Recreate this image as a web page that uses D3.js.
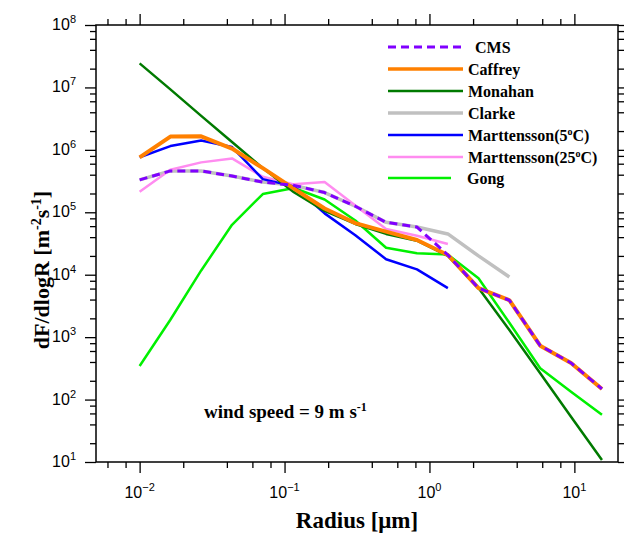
<!DOCTYPE html>
<html>
<head>
<meta charset="utf-8">
<script src="https://cdn.jsdelivr.net/npm/d3@7"></script>
<style>
  body { margin: 0; background: #fff; }
  svg { display: block; }
</style>
</head>
<body>
<svg id="chart" width="624" height="533"></svg>
<script>
// Particle radius bins (µm)
const radius = [0.01, 0.0163, 0.0266, 0.0434, 0.0708, 0.116, 0.189, 0.308,
                0.502, 0.82, 1.34, 2.18, 3.56, 5.81, 9.48, 15.5];

// Sea-salt source functions, dF/dlogR [m^-2 s^-1]
const cms      = [3.3e5, 4.6e5, 4.6e5, 3.8e5, 3.05e5, 2.7e5, 2.07e5, 1.25e5,
                  6.9e4, 5.8e4, 2.07e4, 6.1e3, 3.9e3, 7.3e2, 3.86e2, 1.48e2];
const caffrey  = [7.6e5, 1.63e6, 1.65e6, 1.05e6, 5.1e5, 2.4e5, 1.15e5, 6.7e4,
                  4.9e4, 3.6e4, 2.07e4, 6.1e3, 3.9e3, 7.3e2, 3.86e2, 1.48e2];
const monahan  = [2.43e7, 9.3e6, 3.5e6, 1.34e6, 5.1e5, 2.1e5, 1.05e5, 6.5e4,
                  4.5e4, 3.5e4, 2.0e4, 6.1e3, 1.3e3, 2.64e2, 53, 10.8];
const clarke   = [3.3e5, 4.6e5, 4.6e5, 3.8e5, 3.05e5, 2.7e5, 2.07e5, 1.25e5,
                  6.9e4, 5.8e4, 4.5e4, 2.0e4, 9.2e3];
const mart5    = [7.6e5, 1.15e6, 1.41e6, 1.11e6, 3.4e5, 2.6e5, 9.6e4, 4.3e4,
                  1.77e4, 1.22e4, 6.1e3];
const mart25   = [2.14e5, 4.8e5, 6.3e5, 7.3e5, 3.7e5, 2.8e5, 3.06e5, 1.29e5,
                  5.4e4, 4.2e4, 3.1e4];
const gong     = [345, 1.9e3, 1.17e4, 6.3e4, 1.96e5, 2.45e5, 1.6e5, 7.4e4,
                  2.7e4, 2.2e4, 2.1e4, 8.8e3, 1.7e3, 318, 134, 57];

// Axis ticks
const xMajor = [0.01, 0.1, 1, 10];
const xExp   = ["\u22122", "\u22121", "0", "1"];
const yMajor = [1e1, 1e2, 1e3, 1e4, 1e5, 1e6, 1e7, 1e8];
const yExp   = ["1", "2", "3", "4", "5", "6", "7", "8"];
const minorSteps = [2, 4, 6, 8];

const svg = d3.select("#chart");
const L = 96, R = 618, T = 25, B = 462;

const x = d3.scaleLog().domain([0.005, 20]).range([L, R]);
const y = d3.scaleLog().domain([10, 1e8]).range([B, T]);

// minor tick positions within each decade
function minorTicks(scale) {
  const [a, b] = scale.domain();
  const out = [];
  for (let e = Math.floor(Math.log10(a)); e <= Math.ceil(Math.log10(b)); e++) {
    minorSteps.forEach(m => {
      const v = m * Math.pow(10, e);
      if (v > a && v < b) out.push(v);
    });
  }
  return out;
}
const xMinor = minorTicks(x);
const yMinor = minorTicks(y);

function drawAxis(gen, tx, ty, values, size) {
  svg.append("g")
    .attr("transform", `translate(${tx},${ty})`)
    .call(gen.tickValues(values).tickSize(size).tickSizeOuter(0).tickFormat(""))
    .call(g => g.select(".domain").remove())
    .call(g => g.selectAll("line").attr("stroke", "#000").attr("stroke-width", 1.3));
}
drawAxis(d3.axisBottom(x), 0, B, xMajor, 11);
drawAxis(d3.axisBottom(x), 0, B, xMinor, 6);
drawAxis(d3.axisTop(x), 0, T, xMajor, 11);
drawAxis(d3.axisTop(x), 0, T, xMinor, 6);
drawAxis(d3.axisLeft(y), L, 0, yMajor, 11);
drawAxis(d3.axisLeft(y), L, 0, yMinor, 6);
drawAxis(d3.axisRight(y), R, 0, yMajor, 11);
drawAxis(d3.axisRight(y), R, 0, yMinor, 6);

// tick labels with superscript exponents
const tickFont = "'Liberation Sans', Arial, sans-serif";
xMajor.forEach((v, i) => {
  const t = svg.append("text")
    .attr("x", x(v)).attr("y", 498)
    .attr("text-anchor", "middle")
    .attr("font-family", tickFont).attr("font-size", 16);
  t.append("tspan").text("10");
  t.append("tspan").attr("dy", -7).attr("font-size", 11).text(xExp[i]);
});
yMajor.forEach((v, i) => {
  const t = svg.append("text")
    .attr("x", 76).attr("y", y(v) + 5)
    .attr("text-anchor", "end")
    .attr("font-family", tickFont).attr("font-size", 16);
  t.append("tspan").text("10");
  t.append("tspan").attr("dy", -7).attr("font-size", 11).text(yExp[i]);
});

// series
const series = [
  { name: "Clarke",    values: clarke,  color: "#c0c0c0", width: 3.5 },
  { name: "Marttensson(25", values: mart25, color: "#ff8cf0", width: 2.5, deg: true },
  { name: "Gong",      values: gong,    color: "#00f000", width: 2.5 },
  { name: "Marttensson(5",  values: mart5,  color: "#0000ff", width: 2.5, deg: true },
  { name: "Monahan",   values: monahan, color: "#007a00", width: 2.5 },
  { name: "Caffrey",   values: caffrey, color: "#ff8000", width: 4 },
  { name: "CMS",       values: cms,     color: "#8000ff", width: 3, dash: "8,5" }
];

const line = d3.line()
  .x((d, i) => x(radius[i]))
  .y(d => y(d));

const plot = svg.append("g");
series.forEach(s => {
  plot.append("path")
    .datum(s.values)
    .attr("d", line)
    .attr("fill", "none")
    .attr("stroke", s.color)
    .attr("stroke-width", s.width)
    .attr("stroke-linejoin", "round")
    .attr("stroke-dasharray", s.dash || null);
});

// frame
svg.append("rect")
  .attr("x", L).attr("y", T).attr("width", R - L).attr("height", B - T)
  .attr("fill", "none").attr("stroke", "#000").attr("stroke-width", 1.5);

// legend
const serif = "'Liberation Serif', 'Times New Roman', serif";
const legendOrder = ["CMS", "Caffrey", "Monahan", "Clarke", "Marttensson(5", "Marttensson(25", "Gong"];
const legendY = [47, 69, 91, 113, 135, 157, 178];
const legendTextX = [475, 468, 468, 468, 468, 468, 467];
const legendLineEnd = [463, 463, 463, 463, 463, 463, 451];
legendOrder.forEach((name, i) => {
  const s = series.find(d => d.name === name);
  svg.append("line")
    .attr("x1", 388).attr("x2", legendLineEnd[i])
    .attr("y1", legendY[i]).attr("y2", legendY[i])
    .attr("stroke", s.color).attr("stroke-width", s.width === 4 ? 3.5 : s.width)
    .attr("stroke-dasharray", s.dash || null);
  const t = svg.append("text")
    .attr("x", legendTextX[i]).attr("y", legendY[i] + 5.5)
    .attr("font-family", serif).attr("font-weight", "bold").attr("font-size", 16);
  t.append("tspan").text(name);
  if (s.deg) {
    t.append("tspan").attr("dy", -6).attr("font-size", 10).text("o");
    t.append("tspan").attr("dy", 6).text("C)");
  }
});

// annotation
const ann = svg.append("text")
  .attr("x", 204).attr("y", 418)
  .attr("font-family", serif).attr("font-weight", "bold").attr("font-size", 19);
ann.append("tspan").text("wind speed = 9 m s");
ann.append("tspan").attr("dy", -7).attr("font-size", 12).text("-1");

// axis titles
svg.append("text")
  .attr("x", (L + R) / 2).attr("y", 528)
  .attr("text-anchor", "middle")
  .attr("font-family", serif).attr("font-weight", "bold").attr("font-size", 23)
  .text("Radius [\u03bcm]");

const yt = svg.append("text")
  .attr("transform", "translate(49,270) rotate(-90)")
  .attr("text-anchor", "middle")
  .attr("font-family", serif).attr("font-weight", "bold").attr("font-size", 22);
yt.append("tspan").text("dF/dlogR [m");
yt.append("tspan").attr("dy", -8).attr("font-size", 14).text("-2");
yt.append("tspan").attr("dy", 8).text("s");
yt.append("tspan").attr("dy", -8).attr("font-size", 14).text("-1");
yt.append("tspan").attr("dy", 8).text("]");
</script>
</body>
</html>
